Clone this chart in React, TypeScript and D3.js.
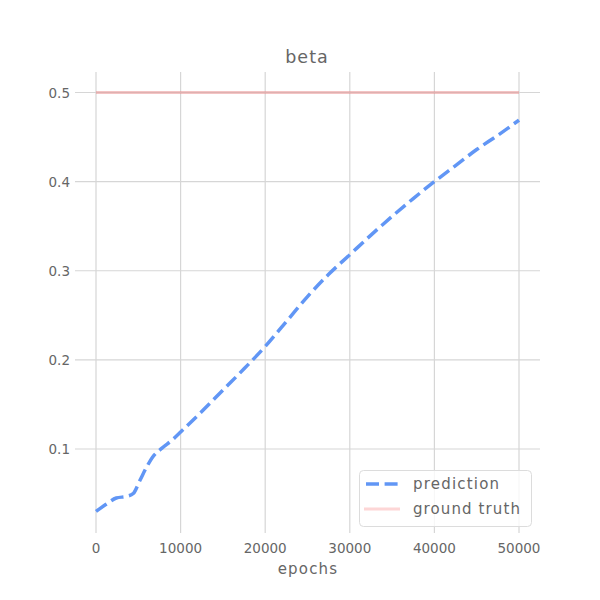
import React from "react";
import * as d3 from "d3";

const epochs = [0, 1200, 2400, 3700, 4400, 5200, 6000, 6700, 7800, 9000, 10000, 12500, 15000, 17500, 20000, 22500, 25000, 27500, 30000, 32500, 35000, 37500, 40000, 42500, 45000, 47500, 50000];
const prediction = [0.030, 0.038, 0.045, 0.047, 0.050, 0.065, 0.080, 0.091, 0.101, 0.110, 0.119, 0.142, 0.166, 0.190, 0.215, 0.243, 0.271, 0.296, 0.318, 0.340, 0.361, 0.381, 0.400, 0.418, 0.436, 0.452, 0.469];
const groundTruth = [0.5, 0.5];
const gtEpochs = [0, 50000];
const xTicks = [0, 10000, 20000, 30000, 40000, 50000];
const yTicks = [0.1, 0.2, 0.3, 0.4, 0.5];

const FONT = "'DejaVu Sans', sans-serif";
const TXT = "#666";

export default function App() {
  const W = 600, H = 600;
  const x = d3.scaleLinear().domain([0, 50000]).range([96, 519]);
  const y = d3.scaleLinear().domain([0.1, 0.5]).range([449, 92.5]);
  const left = 75, right = 540, top = 72, bottom = 533;

  const predLine = d3.line<number>()
    .x((_, i) => x(epochs[i]))
    .y((d) => y(d))
    .curve(d3.curveMonotoneX)(prediction) as string;
  const gtLine = d3.line<number>()
    .x((_, i) => x(gtEpochs[i]))
    .y((d) => y(d))(groundTruth) as string;

  return (
    <svg width={W} height={H} style={{ position: "absolute", left: 0, top: 0 }}>
      <rect width={W} height={H} fill="#fff" />
      {xTicks.map((t) => (
        <line key={"gx" + t} x1={x(t)} x2={x(t)} y1={top} y2={bottom} stroke="#d6d6d6" strokeWidth={1.2} />
      ))}
      {yTicks.map((t) => (
        <line key={"gy" + t} x1={left} x2={right} y1={y(t)} y2={y(t)} stroke="#d6d6d6" strokeWidth={1.2} />
      ))}
      <path d={gtLine} fill="none" stroke="#e88a8a" strokeOpacity={0.5} strokeWidth={3} />
      <path d={predLine} fill="none" stroke="#6196f5" strokeWidth={3.5} strokeDasharray="13,5.6" />
      {xTicks.map((t) => (
        <text key={"tx" + t} x={x(t)} y={553} textAnchor="middle" fontFamily={FONT} fontSize={13.5} fill={TXT}>{t}</text>
      ))}
      {yTicks.map((t) => (
        <text key={"ty" + t} x={70} y={y(t) + 5} textAnchor="end" fontFamily={FONT} fontSize={13.5} fill={TXT}>{t.toFixed(1)}</text>
      ))}
      <text x={307} y={63} textAnchor="middle" fontFamily={FONT} fontSize={17.5} letterSpacing={1} fill={TXT}>beta</text>
      <text x={308} y={574} textAnchor="middle" fontFamily={FONT} fontSize={15} letterSpacing={1.2} fill={TXT}>epochs</text>
      <g>
        <rect x={359.5} y={470.5} width={172} height={56} rx={4} fill="#fff" fillOpacity={0.8} stroke="#dcdcdc" />
        <line x1={366} x2={399} y1={484} y2={484} stroke="#6196f5" strokeWidth={3.5} strokeDasharray="13,5.6" />
        <text x={413} y={489} fontFamily={FONT} fontSize={15} letterSpacing={1.2} fill={TXT}>prediction</text>
        <line x1={364} x2={400} y1={509} y2={509} stroke="#fdd6d6" strokeWidth={3} />
        <text x={413} y={514} fontFamily={FONT} fontSize={15} letterSpacing={1.1} fill={TXT}>ground truth</text>
      </g>
    </svg>
  );
}
